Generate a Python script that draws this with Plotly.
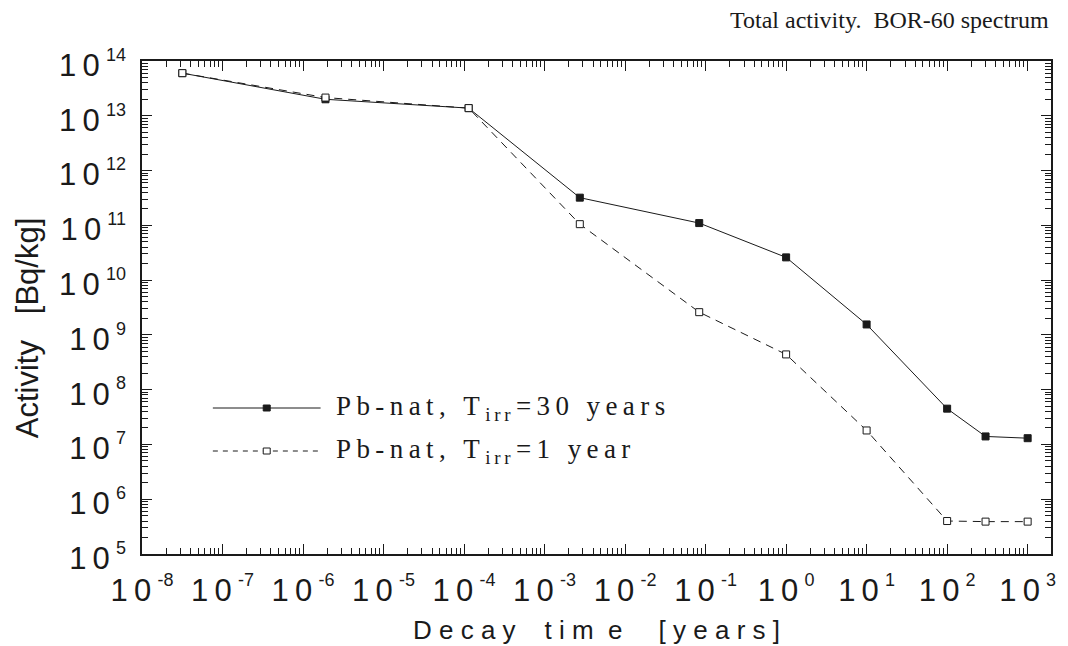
import plotly.graph_objects as go

# Decay times (years): 1 s, 1 min, 1 h, 1 d, 1 month, 1 y, 10 y, 100 y, 300 y, 1000 y
decay_time = [3.17e-8, 1.9e-6, 1.14e-4, 2.74e-3, 8.33e-2, 1.0, 10.0, 100.0, 300.0, 1000.0]

# Total activity of natural lead [Bq/kg]
activity_30y = [6.0e13, 2.0e13, 1.38e13, 3.2e11, 1.1e11, 2.6e10, 1.55e9, 4.5e7, 1.4e7, 1.3e7]
activity_1y = [6.0e13, 2.15e13, 1.38e13, 1.05e11, 2.6e9, 4.4e8, 1.8e7, 4.0e5, 3.9e5, 3.9e5]

series_names = ["Pb-nat, T<sub>irr</sub>=30 years", "Pb-nat, T<sub>irr</sub>=1 year"]

x_exponents = list(range(-8, 4))
y_exponents = list(range(5, 15))

TS = "\u2009"  # thin space used for wide letter spacing
NB = "\u00a0"


def spaced(text):
    return TS.join(text)


def spaced_label(name):
    # put thin spaces between characters but keep the <sub> tags intact
    pre, rest = name.split("<sub>")
    sub, post = rest.split("</sub>")
    return spaced(pre) + TS + "<sub>" + spaced(sub) + "</sub>" + TS + spaced(post)


def power_label(e):
    # the outer span enlarges the superscript shift, the inner one sets the digit size
    return (f"1{TS}0{TS}<span style='font-size:36px'><sup>"
            f"<span style='font-size:18px'>{e}</span></sup></span>")


def minor_vals(lo, hi):
    vals = []
    for e in range(lo, hi + 1):
        for m in range(2, 10):
            vals.append(m * 10.0 ** e)
    return vals


ink = "#1a1a1a"
axis_font = "Liberation Sans, Arial, sans-serif"
serif_font = "Liberation Serif, Times New Roman, serif"

fig = go.Figure()

fig.add_trace(go.Scatter(
    x=decay_time, y=activity_30y, mode="lines+markers", name=series_names[0],
    line=dict(color=ink, width=1),
    marker=dict(symbol="square", size=7, color=ink, line=dict(color=ink, width=1)),
    showlegend=False,
))
fig.add_trace(go.Scatter(
    x=decay_time, y=activity_1y, mode="lines+markers", name=series_names[1],
    line=dict(color=ink, width=1, dash="8px,6px"),
    marker=dict(symbol="square", size=7, color="white", line=dict(color=ink, width=1)),
    showlegend=False,
))

axis_common = dict(
    type="log",
    showgrid=False,
    zeroline=False,
    showline=True,
    linecolor=ink,
    linewidth=1.5,
    mirror="ticks",
    ticks="inside",
    ticklen=10,
    tickwidth=1,
    tickcolor=ink,
    tickmode="array",
    tickfont=dict(family=axis_font, size=31, color=ink),
)

fig.update_xaxes(
    **axis_common,
    range=[-8, 3.29],
    tickvals=[10.0 ** e for e in x_exponents],
    ticktext=[power_label(e) for e in x_exponents],
    minor=dict(tickmode="array", tickvals=minor_vals(-8, 3), ticks="inside",
               ticklen=6, tickwidth=1, tickcolor=ink),
    ticklabelstandoff=8,
)
fig.update_yaxes(
    **axis_common,
    range=[5, 14],
    tickvals=[10.0 ** e for e in y_exponents],
    ticktext=[power_label(e) for e in y_exponents],
    minor=dict(tickmode="array", tickvals=minor_vals(5, 13), ticks="inside",
               ticklen=6, tickwidth=1, tickcolor=ink),
    ticklabelstandoff=8,
    ticklabelshift=4,
)

annotations = []

# axis titles
x_title = (NB.join("Decay") + NB * 4 + NB.join("tim") + NB * 2 + "e"
           + NB * 5 + NB.join("[years]"))
annotations.append(dict(
    text=x_title, xref="paper", yref="paper", x=0.5, y=-0.155,
    xanchor="center", yanchor="middle", showarrow=False,
    font=dict(family=axis_font, size=26, color=ink),
))
annotations.append(dict(
    text="Activity" + NB * 3 + "[Bq/kg]", xref="paper", yref="paper",
    x=(27 - 142) / 911, y=1 - (328 - 61) / 493,
    xanchor="center", yanchor="middle", textangle=-90, showarrow=False,
    font=dict(family=axis_font, size=31, color=ink),
))

# caption in the upper right corner
annotations.append(dict(
    text="Total activity." + NB * 2 + "BOR-60 spectrum", xref="paper", yref="paper",
    x=1.0, y=1 + (61 - 20) / 493, xanchor="right", yanchor="middle",
    showarrow=False, font=dict(family=serif_font, size=24, color=ink),
))

# hand-drawn legend
legend_rows = [408, 451]
line_x0, line_x1, mark_x = 213, 321, 267


def px_x(p):
    return (p - 142) / 911


def px_y(p):
    return 1 - (p - 61) / 493


shapes = []
for i, row in enumerate(legend_rows):
    dash = "solid" if i == 0 else "5px,5px"
    shapes.append(dict(
        type="line", xref="paper", yref="paper",
        x0=px_x(line_x0), x1=px_x(line_x1), y0=px_y(row), y1=px_y(row),
        line=dict(color=ink, width=1, dash=dash),
    ))
    shapes.append(dict(
        type="rect", xref="paper", yref="paper",
        x0=px_x(mark_x - 3.5), x1=px_x(mark_x + 3.5),
        y0=px_y(row + 3), y1=px_y(row - 3),
        fillcolor=ink if i == 0 else "white",
        line=dict(color=ink, width=1),
    ))
    annotations.append(dict(
        text=spaced_label(series_names[i]), xref="paper", yref="paper",
        x=px_x(334), y=px_y(row), xanchor="left", yanchor="middle",
        showarrow=False, font=dict(family=serif_font, size=27, color=ink),
    ))

fig.update_layout(
    width=1068,
    height=646,
    margin=dict(l=142, r=15, t=61, b=92),
    paper_bgcolor="white",
    plot_bgcolor="white",
    annotations=annotations,
    shapes=shapes,
    showlegend=False,
)

fig.write_html("out.html")
